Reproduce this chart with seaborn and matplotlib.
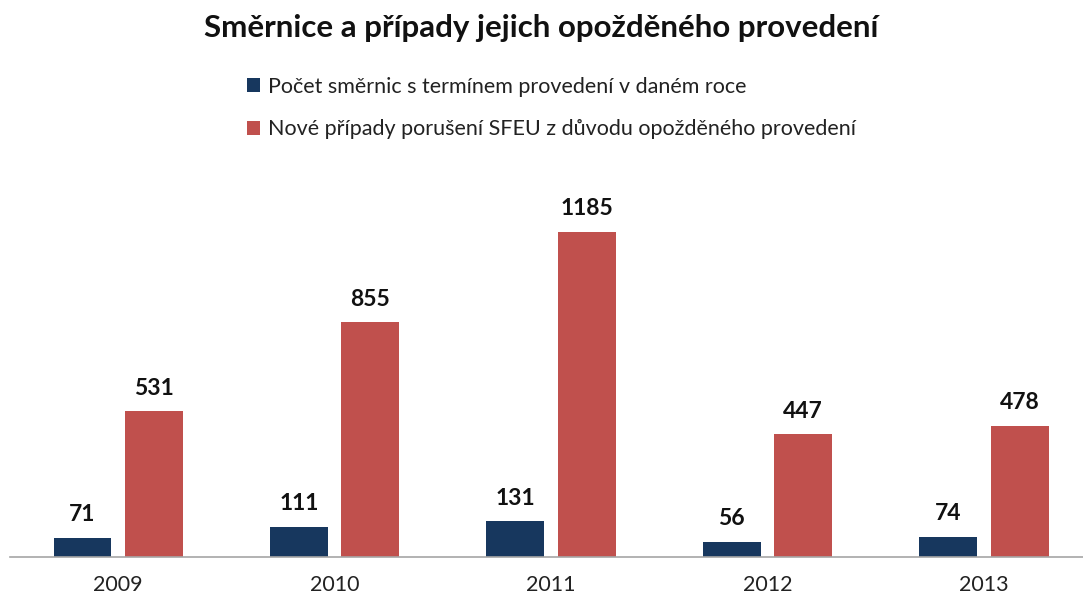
import pandas as pd
import matplotlib
matplotlib.use("Agg")
import matplotlib.pyplot as plt
import seaborn as sns

years = ["2009", "2010", "2011", "2012", "2013"]
smernice = [71, 111, 131, 56, 74]
pripady = [531, 855, 1185, 447, 478]
series = ["Počet směrnic s termínem provedení v daném roce",
          "Nové případy porušení SFEU z důvodu opožděného provedení"]
colors = ["#17375E", "#C0504D"]

df = pd.DataFrame({
    "rok": years * 2,
    "hodnota": smernice + pripady,
    "serie": [series[0]] * len(years) + [series[1]] * len(years),
})

sns.set_style("white")
plt.rcParams["font.family"] = ["Lato", "DejaVu Sans"]

fig = plt.figure(figsize=(10.83, 6), dpi=100)
ax = fig.add_axes([10 / 1083, 43 / 600, 1073 / 1083, 384 / 600])

sns.barplot(data=df, x="rok", y="hodnota", hue="serie", palette=colors,
            width=0.66, gap=0.19, ax=ax, saturation=1, linewidth=0, legend=True)

for c in ax.containers:
    ax.bar_label(c, padding=9, fontsize=16.5, fontweight="bold", color="#111111")

ax.set_ylim(0, 1400)
ax.set_xlim(-0.5, 4 + 99 / 216.5)
ax.set_xlabel("")
ax.set_ylabel("")
ax.set_yticks([])
ax.tick_params(axis="x", length=0, labelsize=15.5, pad=13, colors="#222222")
for s in ["top", "right", "left"]:
    ax.spines[s].set_visible(False)
ax.spines["bottom"].set_color("#A6A6A6")
ax.spines["bottom"].set_linewidth(1.2)

handles, labels = ax.get_legend_handles_labels()
ax.get_legend().remove()
fig.legend(handles, labels, loc="upper left", bbox_to_anchor=(236 / 1083, 1 - 66 / 600),
           frameon=False, fontsize=15.5, handlelength=0.6, handleheight=0.6,
           handletextpad=0.4, labelspacing=1.05, borderpad=0, labelcolor="#222222")

fig.suptitle("Směrnice a případy jejich opožděného provedení", x=0.5, y=1 - 14 / 600,
             va="top", fontsize=22.5, fontweight="bold", color="#111111")

fig.savefig("out.png", dpi=100)
